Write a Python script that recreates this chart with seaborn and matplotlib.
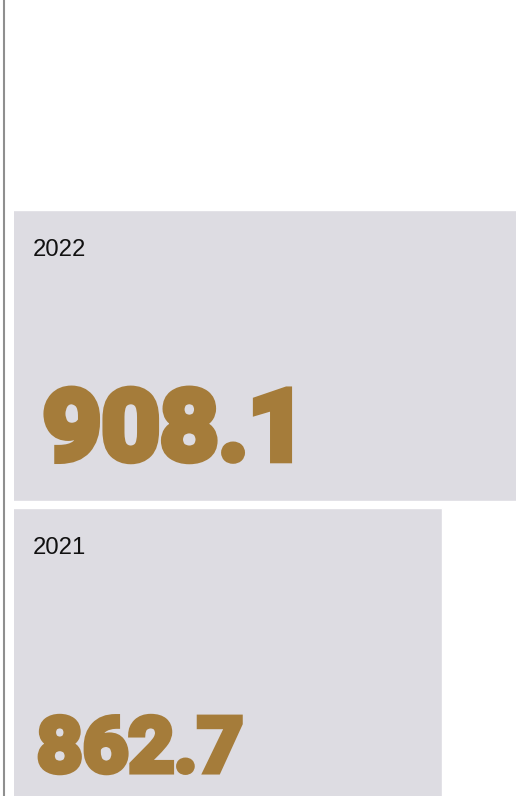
import matplotlib
matplotlib.use("Agg")
import matplotlib.pyplot as plt
import matplotlib.patheffects as pe
from matplotlib.lines import Line2D
from matplotlib.transforms import Affine2D
import seaborn as sns
import pandas as pd

# Données
years = ["2022", "2021"]
values = [908.1, 862.7]
value_labels = ["908.1", "862.7"]

bar_color = "#dddce2"
gold = "#a57c3a"


class Fat(pe.AbstractPathEffect):
    """Texte élargi + contour épais pour imiter une police 'black'."""

    def __init__(self, sx, lw, color):
        super().__init__()
        self.sx, self.lw, self.color = sx, lw, color

    def draw_path(self, renderer, gc, tpath, affine, rgbFace=None):
        x0 = tpath.get_extents(affine).x0
        aff = affine + Affine2D().translate(-x0, 0).scale(self.sx, 1).translate(x0, 0)
        gc0 = renderer.new_gc()
        gc0.copy_properties(gc)
        gc0.set_linewidth(self.lw)
        gc0.set_foreground(self.color)
        gc0.set_joinstyle("miter")
        renderer.draw_path(gc0, tpath, aff, rgbFace)
        gc0.restore()


df = pd.DataFrame({"Year": years, "Value": values})

sns.set_theme(style="white")
plt.rcParams["font.family"] = ["Liberation Sans", "DejaVu Sans"]

fig = plt.figure(figsize=(5.16, 7.96), dpi=100)
ax = fig.add_axes([14 / 516, 0, 502 / 516, (796 - 210) / 796])

sns.barplot(data=df, y="Year", x="Value", orient="h", color=bar_color,
            width=0.977, saturation=1, ax=ax)

lo, hi = 700.8, 890.7
ax.set_xlim(lo, hi)
ax.set_ylim(1.478, -0.488)
ax.axis("off")

# trait vertical à gauche
fig.add_artist(Line2D([4 / 516, 4 / 516], [0, 1], color="#8f8f8f", lw=1.5,
                      transform=fig.transFigure))

trans = ax.get_yaxis_transform()
ref_len = values[0] - lo
for i, (y, v, lab) in enumerate(zip(years, values, value_labels)):
    scale = (v - lo) / ref_len
    ax.text(0.038, i - 0.335, y, transform=trans, fontsize=17.2,
            color="#111111", va="baseline", ha="left")
    t = ax.text(0.058 - 0.012 * i, i + 0.349 + 0.047 * i, lab,
                transform=trans, fontsize=70 * scale, fontweight="bold",
                family=["Roboto", "DejaVu Sans"], color=gold,
                va="baseline", ha="left")
    t.set_path_effects([Fat(1.05, 5.5 * scale, gold)])

fig.savefig("out.png", dpi=100)
